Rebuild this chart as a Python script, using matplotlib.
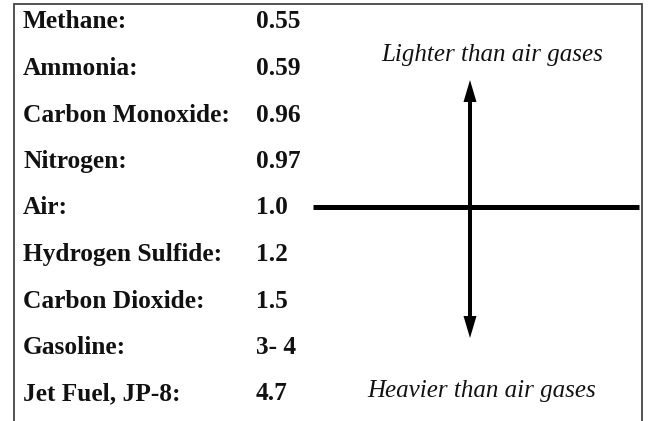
import matplotlib
matplotlib.use('Agg')
import matplotlib.pyplot as plt

# specific gravity relative to air
gases = ['Methane:', 'Ammonia:', 'Carbon Monoxide:', 'Nitrogen:', 'Air:',
         'Hydrogen Sulfide:', 'Carbon Dioxide:', 'Gasoline:', 'Jet Fuel, JP-8:']
values = ['0.55', '0.59', '0.96', '0.97', '1.0', '1.2', '1.5', '3- 4', '4.7']
up_label = 'Lighter than air gases'
down_label = 'Heavier than air gases'

W, H = 652, 421
fig = plt.figure(figsize=(W / 100, H / 100), dpi=100)
ax = fig.add_axes([0, 0, 1, 1])
ax.set_xlim(0, W)
ax.set_ylim(H, 0)
ax.axis('off')

serif = 'Liberation Serif'

# frame (open at bottom)
ax.plot([13.5, 13.5, 641.5, 641.5], [H + 5, 3.5, 3.5, H + 5], color='#444444', lw=1.3,
        solid_joinstyle='miter')

row0, dy = 22, 46.5
for i, (g, v) in enumerate(zip(gases, values)):
    y = row0 + i * dy
    ax.text(23, y, g, fontfamily=serif, fontweight='bold', fontsize=18.3,
            va='center', ha='left', color='#111111')
    ax.text(256, y, v, fontfamily=serif, fontweight='bold', fontsize=18.3,
            va='center', ha='left', color='#111111')

# air line
air_y = row0 + gases.index('Air:') * dy - 1
ax.plot([313, 639], [air_y, air_y], color='black', lw=3.6, solid_capstyle='butt')

cx = 470
for y_end in (80, 338):
    ax.arrow(cx, air_y, 0, y_end - air_y, width=4, head_width=13, head_length=22,
             length_includes_head=True, lw=0, color='black')

ax.text(492, 55, up_label, fontfamily=serif, style='italic', fontsize=18,
        ha='center', va='center', color='#111111')
ax.text(482, 391, down_label, fontfamily=serif, style='italic', fontsize=18,
        ha='center', va='center', color='#111111')

fig.savefig('out.png', dpi=100)
